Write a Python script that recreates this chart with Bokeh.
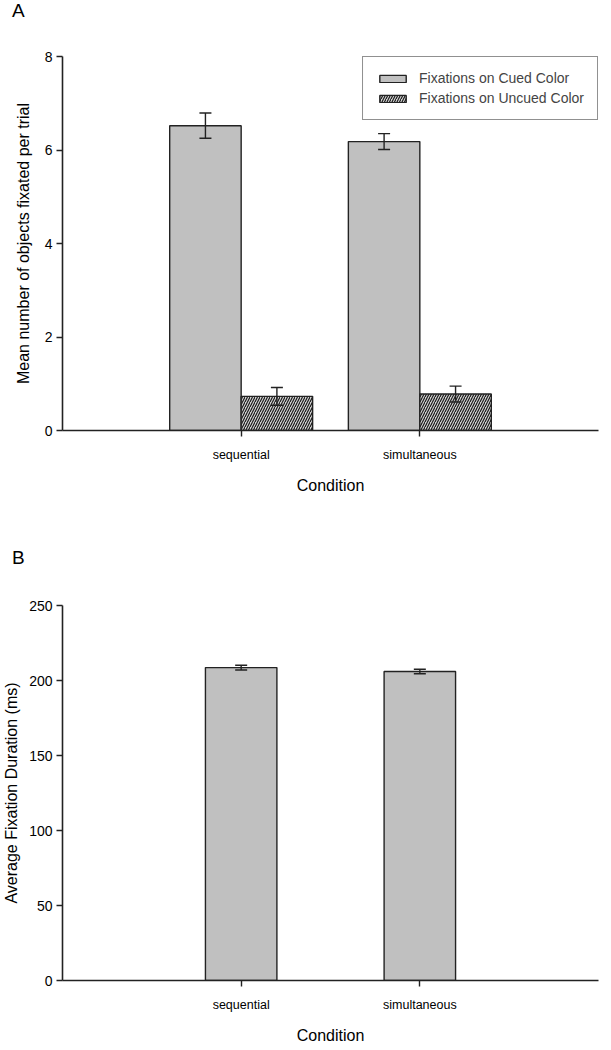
from bokeh.plotting import figure
from bokeh.models import (Range1d, FixedTicker, ColumnDataSource, Whisker, TeeHead,
                          Legend, LegendItem, Div)
from bokeh.layouts import column
from bokeh.embed import file_html
from bokeh.resources import INLINE

# ---------------- data ----------------
conditions = ["sequential", "simultaneous"]
cued_mean = [6.52, 6.18]
cued_err = [0.27, 0.17]
uncued_mean = [0.73, 0.78]
uncued_err = [0.19, 0.17]
duration_mean = [208.6, 206.0]
duration_err = [1.6, 1.5]

panel_a_yticks = [0, 2, 4, 6, 8]
panel_b_yticks = [0, 50, 100, 150, 200, 250]

FONT = "Liberation Sans"
AX = "#222222"
GREY = "#c0c0c0"
xpos = [i + 1 for i in range(len(conditions))]
labels = {x: c for x, c in zip(xpos, conditions)}
BW = 0.4


def letter_div(t):
    return Div(text=t, width=120, height=22, margin=0,
               styles={"font-family": FONT, "font-size": "19px", "line-height": "22px",
                       "padding-left": "12px", "color": "black"})


def style(p, yticks, ylabel):
    p.outline_line_color = None
    p.xgrid.visible = False
    p.ygrid.visible = False
    p.xaxis.ticker = FixedTicker(ticks=xpos)
    p.xaxis.major_label_overrides = labels
    p.yaxis.ticker = FixedTicker(ticks=yticks)
    for ax in (p.xaxis[0], p.yaxis[0]):
        ax.axis_line_color = AX
        ax.axis_line_width = 1.6
        ax.major_tick_line_color = AX
        ax.major_tick_line_width = 1.4
        ax.major_tick_out = 6
        ax.major_tick_in = 0
        ax.minor_tick_line_color = None
        ax.major_label_text_font = FONT
        ax.major_label_text_color = "black"
        ax.axis_label_text_font = FONT
        ax.axis_label_text_font_style = "normal"
        ax.axis_label_text_color = "black"
        ax.axis_label_text_font_size = "16px"
    p.xaxis.major_label_text_font_size = "12.5px"
    p.yaxis.major_label_text_font_size = "14px"
    p.xaxis.major_label_standoff = 11
    p.xaxis.axis_label_standoff = 12
    p.yaxis.major_label_standoff = 4
    p.yaxis.axis_label = ylabel
    p.xaxis.axis_label = "Condition"


# ---------------- panel A ----------------
pa = figure(frame_width=536, frame_height=374, min_border_left=59, min_border_right=6,
            min_border_top=34, min_border_bottom=117,
            x_range=Range1d(0, 3), y_range=Range1d(0, 8),
            output_backend="svg", toolbar_location=None)
style(pa, panel_a_yticks, "Mean number of objects fixated per trial")
pa.yaxis.axis_label_standoff = 10

src_c = ColumnDataSource(dict(x=[x - BW / 2 for x in xpos], top=cued_mean,
                              lo=[m - e for m, e in zip(cued_mean, cued_err)],
                              hi=[m + e for m, e in zip(cued_mean, cued_err)]))
src_u = ColumnDataSource(dict(x=[x + BW / 2 for x in xpos], top=uncued_mean,
                              lo=[m - e for m, e in zip(uncued_mean, uncued_err)],
                              hi=[m + e for m, e in zip(uncued_mean, uncued_err)]))
r_c = pa.vbar(x="x", top="top", bottom=0, width=BW, source=src_c,
              fill_color=GREY, line_color=AX, line_width=1.4)
r_u = pa.vbar(x="x", top="top", bottom=0, width=BW, source=src_u,
              fill_color="#d0d0d0", line_color=AX, line_width=1.4,
              hatch_pattern="/", hatch_color="#111111", hatch_scale=5, hatch_weight=1.1)
for s in (src_c, src_u):
    w = Whisker(base="x", upper="hi", lower="lo", source=s, level="overlay",
                line_color=AX, line_width=1.4,
                upper_head=TeeHead(size=12, line_color=AX, line_width=1.4),
                lower_head=TeeHead(size=12, line_color=AX, line_width=1.4))
    pa.add_layout(w)

leg = Legend(items=[LegendItem(label="Fixations on Cued Color", renderers=[r_c]),
                    LegendItem(label="Fixations on Uncued Color", renderers=[r_u])],
             location="top_right", border_line_color=AX, border_line_width=1.4,
             background_fill_alpha=1, margin=0, padding=13, spacing=4,
             glyph_width=33, glyph_height=9, label_height=15, label_standoff=10,
             label_text_font=FONT, label_text_font_size="14px")
pa.add_layout(leg)

# ---------------- panel B ----------------
pb = figure(frame_width=536, frame_height=375, min_border_left=59, min_border_right=6,
            min_border_top=36, min_border_bottom=55,
            x_range=Range1d(0, 3), y_range=Range1d(0, 250),
            output_backend="svg", toolbar_location=None)
style(pb, panel_b_yticks, "Average Fixation Duration (ms)")
pb.yaxis.axis_label_standoff = 6

src_d = ColumnDataSource(dict(x=xpos, top=duration_mean,
                              lo=[m - e for m, e in zip(duration_mean, duration_err)],
                              hi=[m + e for m, e in zip(duration_mean, duration_err)]))
pb.vbar(x="x", top="top", bottom=0, width=BW, source=src_d,
        fill_color=GREY, line_color=AX, line_width=1.4)
pb.add_layout(Whisker(base="x", upper="hi", lower="lo", source=src_d, level="overlay",
                      line_color=AX, line_width=1.4,
                      upper_head=TeeHead(size=12, line_color=AX, line_width=1.4),
                      lower_head=TeeHead(size=12, line_color=AX, line_width=1.4)))

layout = column(letter_div("A"), pa, letter_div("B"), pb, spacing=0)
open("out.html", "w").write(file_html(layout, INLINE))
